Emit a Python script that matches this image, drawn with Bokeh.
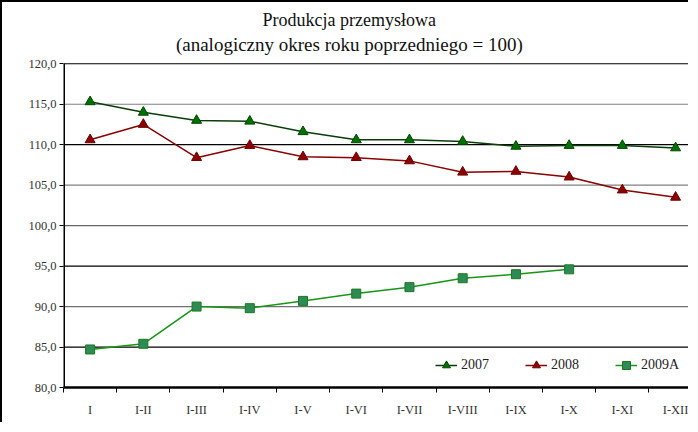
from bokeh.plotting import figure
from bokeh.models import Range1d, FixedTicker, Legend, LegendItem, Span, Label
from bokeh.embed import file_html
from bokeh.resources import INLINE

categories = ["I", "I-II", "I-III", "I-IV", "I-V", "I-VI", "I-VII", "I-VIII", "I-IX", "I-X", "I-XI", "I-XII"]
s2007 = [115.3, 114.0, 113.0, 112.9, 111.6, 110.6, 110.6, 110.4, 109.8, 109.9, 109.9, 109.6]
s2008 = [110.6, 112.5, 108.4, 109.9, 108.5, 108.4, 108.0, 106.6, 106.7, 106.0, 104.4, 103.5]
s2009 = [84.7, 85.4, 90.0, 89.8, 90.7, 91.6, 92.4, 93.5, 94.0, 94.6]
y_ticks = [80, 85, 90, 95, 100, 105, 110, 115, 120]
y_tick_labels = ["80,0", "85,0", "90,0", "95,0", "100,0", "105,0", "110,0", "115,0", "120,0"]
grid_colors = ["#000000", "#000000", "#707070", "#000000", "#666666", "#808080", "#000000", "#808080", "#000000"]
title_lines = ["Produkcja przemysłowa", "(analogiczny okres roku poprzedniego = 100)"]

FONT = "Liberation Serif"

x_centers = [i + 0.5 for i in range(len(categories))]
x_bounds = [float(i) for i in range(len(categories) + 1)]

# frame covers the title area too; value axis runs 80..120, top of frame ~127.6
p = figure(width=688, height=422, output_backend="svg", toolbar_location=None, title=None,
           x_range=Range1d(0, 11.78), y_range=Range1d(80, 127.57),
           min_border_left=61, min_border_right=0, min_border_bottom=37, min_border_top=0)
p.styles = {"border-left": "2px solid black", "border-top": "2px solid black"}

p.outline_line_color = None
p.xgrid.visible = False
p.ygrid.visible = False
for yv, c in zip(y_ticks[1:], grid_colors[1:]):
    p.add_layout(Span(location=yv, dimension="width", line_color=c, line_width=1.2, level="underlay"))

# titles
p.add_layout(Label(x=5.37, y=125.35, text=title_lines[0],
                   text_align="center", text_baseline="middle", text_font=FONT,
                   text_font_size="18px", text_color="#111111"))
p.add_layout(Label(x=5.37, y=122.39, text=title_lines[1],
                   text_align="center", text_baseline="middle", text_font=FONT,
                   text_font_size="19px", text_color="#111111"))

# y axis (line drawn only over 80..120)
p.yaxis.ticker = FixedTicker(ticks=y_ticks)
p.yaxis.major_label_overrides = {t: l for t, l in zip(y_ticks, y_tick_labels)}
p.yaxis.minor_tick_line_color = None
p.yaxis.major_tick_in = 0
p.yaxis.major_tick_out = 4
p.yaxis.axis_line_color = None
p.yaxis.major_label_text_font = FONT
p.yaxis.major_label_text_font_size = "12.5px"
p.yaxis.major_label_text_color = "#333333"
p.yaxis.major_label_standoff = 3
p.segment(x0=[0], y0=[y_ticks[0]], x1=[0], y1=[y_ticks[-1]], line_color="black", line_width=3)

# x axis
p.xaxis.ticker = FixedTicker(ticks=x_centers, minor_ticks=x_bounds)
p.xaxis.major_label_overrides = {c: l for c, l in zip(x_centers, categories)}
p.xaxis.major_tick_line_color = None
p.xaxis.minor_tick_in = 0
p.xaxis.minor_tick_out = 5
p.xaxis.minor_tick_line_color = "black"
p.xaxis.axis_line_color = "black"
p.xaxis.axis_line_width = 2.5
p.xaxis.major_label_text_font = FONT
p.xaxis.major_label_text_font_size = "12.5px"
p.xaxis.major_label_text_color = "#333333"
p.xaxis.major_label_standoff = 9

l1 = p.line(x_centers, s2007, line_color="#0b3d0b", line_width=1.5)
m1 = p.scatter(x_centers, s2007, marker="triangle", size=10, fill_color="#007000", line_color="#004a00")
l2 = p.line(x_centers, s2008, line_color="#8b0000", line_width=1.5)
m2 = p.scatter(x_centers, s2008, marker="triangle", size=10, fill_color="#8b0000", line_color="#700000")
l3 = p.line(x_centers[:len(s2009)], s2009, line_color="#169616", line_width=1.5)
m3 = p.scatter(x_centers[:len(s2009)], s2009, marker="square", size=9, fill_color="#2e8b57", line_color="#1a7a1a")

legend = Legend(items=[LegendItem(label="2007", renderers=[l1, m1]),
                       LegendItem(label="2008", renderers=[l2, m2]),
                       LegendItem(label="2009A", renderers=[l3, m3])],
                orientation="horizontal", location=(372, 12), border_line_color=None,
                background_fill_alpha=0, padding=0, margin=0, spacing=34,
                glyph_width=22, glyph_height=20, label_standoff=4, label_width=30,
                label_text_font=FONT, label_text_font_size="14px", label_text_color="#222222")
p.add_layout(legend, "center")

open("out.html", "w").write(file_html(p, INLINE))
